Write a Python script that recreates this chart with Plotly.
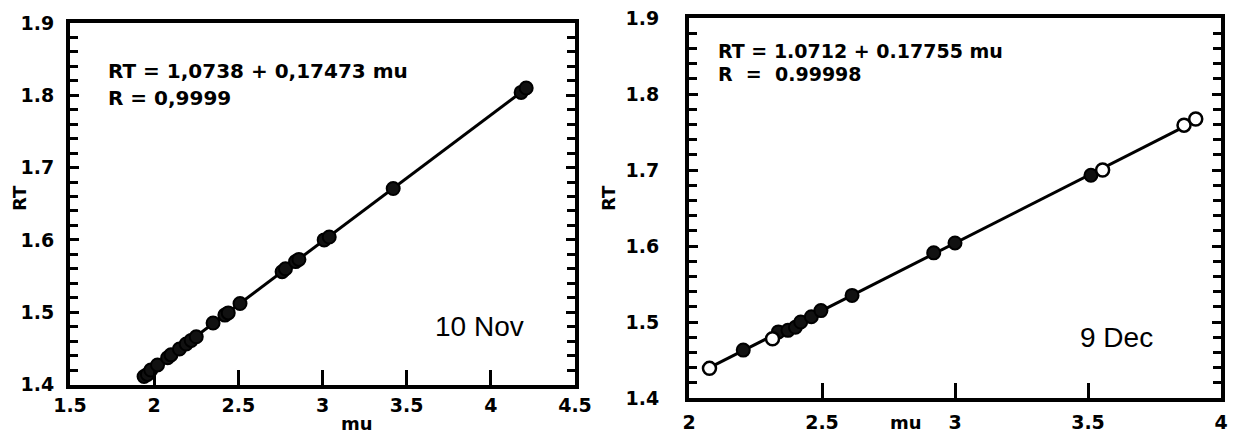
import numpy as np
import plotly.graph_objects as go

# ---- data: 10 Nov (left panel) ----
nov_mu = [1.94, 1.96, 1.98, 2.02, 2.08, 2.10, 2.15, 2.19, 2.22, 2.25, 2.35, 2.42, 2.44,
          2.51, 2.76, 2.78, 2.84, 2.86, 3.01, 3.04, 3.42, 4.18, 4.21]
nov_rt = [1.411, 1.414, 1.420, 1.427, 1.437, 1.441, 1.449, 1.456, 1.461, 1.466, 1.485, 1.496, 1.499,
          1.512, 1.556, 1.560, 1.570, 1.573, 1.600, 1.604, 1.671, 1.804, 1.810]
nov_a, nov_b = 1.0738, 0.17473

# ---- data: 9 Dec (right panel) ----
dec_mu_filled = [2.204, 2.336, 2.372, 2.40, 2.42, 2.46, 2.496, 2.613, 2.92, 3.0, 3.511]
dec_rt_filled = [1.463, 1.487, 1.489, 1.493, 1.500, 1.507, 1.515, 1.535, 1.591, 1.604, 1.693]
dec_mu_open = [2.077, 2.314, 3.555, 3.861, 3.905]
dec_rt_open = [1.439, 1.478, 1.700, 1.759, 1.767]
dec_a, dec_b = 1.0712, 0.17755

# ---- tick labels ----
left_xticks = [1.5, 2, 2.5, 3, 3.5, 4, 4.5]
right_xticks = [2, 2.5, 3, 3.5, 4]
yticks = [1.4, 1.5, 1.6, 1.7, 1.8, 1.9]

# page is shown with the browser's default 8px body margin
OFF = 8
W, H = 1237 - OFF, 435 - OFF

def fx(px):
    return (px - OFF) / W

def fy(py):
    return 1 - (py - OFF) / H

BOLD = dict(family="DejaVu Sans", size=19, color="black", weight="bold")
EQ = dict(family="DejaVu Sans", size=20, color="black", weight="bold")
EQ2 = dict(family="DejaVu Sans", size=19, color="black", weight="bold")

fig = go.Figure()

def fit_line(mu_all, a, b):
    xs = np.array([min(mu_all), max(mu_all)])
    return xs, a + b * xs

MK = 13
# left panel
lx, ly = fit_line(nov_mu, nov_a, nov_b)
fig.add_trace(go.Scatter(x=lx, y=ly, mode="lines", line=dict(color="black", width=3),
                         xaxis="x", yaxis="y", showlegend=False))
fig.add_trace(go.Scatter(x=nov_mu, y=nov_rt, mode="markers", xaxis="x", yaxis="y",
                         marker=dict(symbol="circle", size=MK, color="#111",
                                     line=dict(color="black", width=2)), showlegend=False))

# right panel
all_dec = dec_mu_filled + dec_mu_open
rx, ry = fit_line(all_dec, dec_a, dec_b)
fig.add_trace(go.Scatter(x=rx, y=ry, mode="lines", line=dict(color="black", width=3),
                         xaxis="x2", yaxis="y2", showlegend=False))
fig.add_trace(go.Scatter(x=dec_mu_filled, y=dec_rt_filled, mode="markers", xaxis="x2", yaxis="y2",
                         marker=dict(symbol="circle", size=MK, color="#111",
                                     line=dict(color="black", width=2)), showlegend=False))
fig.add_trace(go.Scatter(x=dec_mu_open, y=dec_rt_open, mode="markers", xaxis="x2", yaxis="y2",
                         marker=dict(symbol="circle", size=MK, color="white",
                                     line=dict(color="black", width=2.5)), showlegend=False))

def xaxis(domain, ticks, rng, anchor, standoff):
    return dict(domain=domain, range=rng, anchor=anchor, tickmode="array", tickvals=ticks,
                ticktext=[f"{t:g}" for t in ticks], ticks="inside", ticklen=15, tickwidth=3,
                tickcolor="black", showline=True, linecolor="black", linewidth=4, mirror=True,
                showgrid=False, zeroline=False, tickfont=BOLD, ticklabelstandoff=standoff,
                ticklabeloverflow="allow", automargin=False)

def yaxis(domain, rng, anchor, standoff):
    return dict(domain=domain, range=rng, anchor=anchor,
                tick0=yticks[0], dtick=round(yticks[1] - yticks[0], 6),
                ticks="inside", ticklen=9, tickwidth=3,
                tickcolor="black", showline=True, linecolor="black", linewidth=4, mirror="ticks",
                tickfont=BOLD, ticklabelstandoff=standoff, ticklabeloverflow="allow",
                automargin=False,
                minor=dict(dtick=0.02, ticks="inside", ticklen=8, tickwidth=3, tickcolor="black"))

fig.update_layout(
    width=W, height=H, autosize=False,
    margin=dict(l=0, r=0, t=0, b=0),
    paper_bgcolor="white", plot_bgcolor="white",
    xaxis=xaxis([fx(70), fx(575)], left_xticks, [1.5, 4.5], "y", 1),
    yaxis=yaxis([fy(384.5), fy(23)], [1.4, 1.9], "x", 8),
    xaxis2=xaxis([fx(689), fx(1221)], right_xticks, [2, 4], "y2", 4),
    yaxis2=yaxis([fy(398), fy(18)], [1.4, 1.9], "x2", 22),
)

def ann(text, px, py, xanchor="left", font=None, angle=0):
    fig.add_annotation(text=text, x=fx(px), y=fy(py), xref="paper", yref="paper",
                       xanchor=xanchor, yanchor="middle", showarrow=False,
                       font=font or EQ, textangle=angle)

ann("RT = 1,0738 + 0,17473 mu", 106, 71)
ann("R = 0,9999", 106, 98)
ann("RT = 1.0712 + 0.17755 mu", 716, 51, font=EQ2)
ann("R  =  0.99998", 716, 74, font=EQ2)
ann("10 Nov", 479, 326, "center", dict(family="Liberation Sans", size=28, color="black"))
ann("9 Dec", 1116, 337, "center", dict(family="Liberation Sans", size=28, color="black"))
TF = dict(family="DejaVu Sans", size=18, color="black", weight="bold")
ann("RT", 19, 198, "center", TF, -90)
ann("RT", 608, 198, "center", TF, -90)
ann("mu", 357, 423, "center", TF)
ann("mu", 906, 422, "center", TF)

fig.write_html("out.html")
